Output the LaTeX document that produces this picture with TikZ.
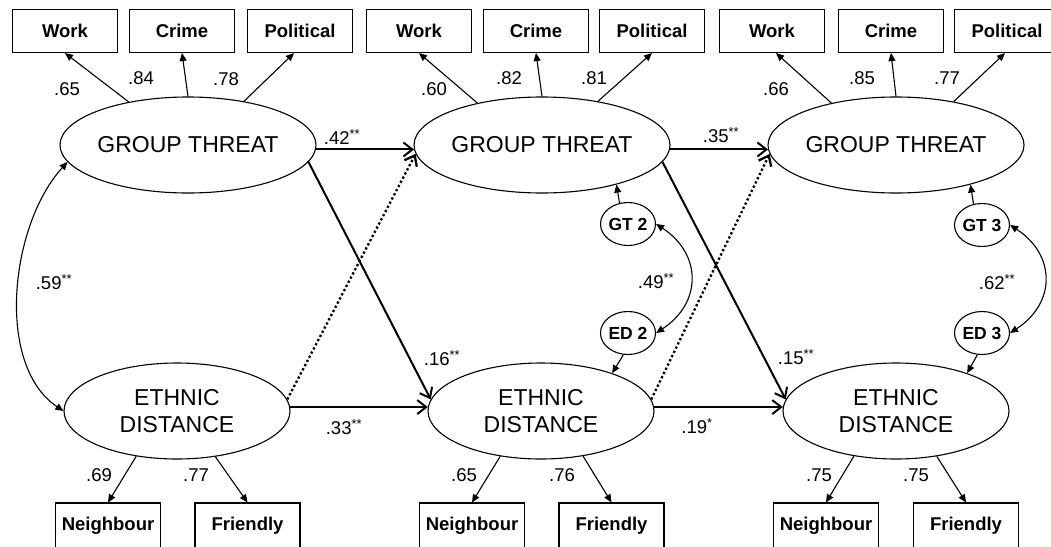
\documentclass[tikz,border=0pt]{standalone}
\usepackage{fontspec}
\setmainfont{Liberation Sans}
\usetikzlibrary{shapes.geometric,arrows.meta,calc}

\begin{document}
\begin{tikzpicture}[x=1pt,y=-1pt,
  latent/.style={ellipse,draw,line width=1.1pt,minimum width=226pt,minimum height=96pt,
    inner sep=0pt,align=center,font=\fontsize{23}{27}\selectfont},
  indicator/.style={rectangle,draw,line width=1.1pt,minimum width=105pt,minimum height=43pt,
    inner sep=0pt,font=\bfseries\fontsize{18.5}{20}\selectfont},
  resid/.style={ellipse,draw,line width=1.1pt,minimum width=54pt,minimum height=43pt,
    inner sep=0pt,font=\bfseries\fontsize{17.5}{19}\selectfont},
  coef/.style={inner sep=0pt,font=\fontsize{18.5}{20}\selectfont},
  meas/.style={line width=1.1pt,-{Triangle[length=8pt,width=7pt]}},
  struct/.style={line width=2pt,-{Straight Barb[length=9pt,width=14pt]}},
  cross/.style={line width=2.3pt,dash pattern=on 2.3pt off 2.4pt,-{Straight Barb[length=9pt,width=14pt]}},
  covar/.style={line width=1.1pt,{Triangle[length=8pt,width=7pt]}-{Triangle[length=8pt,width=7pt]}}
]
\useasboundingbox (0,0) rectangle (1051,546);
\clip (0,0) rectangle (1051,546);
\fill[white] (0,0) rectangle (1051,546);

% latent variables
\node[latent] (gt1) at (188,145) {GROUP THREAT};
\node[latent] (gt2) at (542,145) {GROUP THREAT};
\node[latent] (gt3) at (896,145) {GROUP THREAT};
\node[latent] (ed1) at (177,411) {ETHNIC\\DISTANCE};
\node[latent] (ed2) at (541,411) {ETHNIC\\DISTANCE};
\node[latent] (ed3) at (896,411) {ETHNIC\\DISTANCE};

% threat indicators
\node[indicator] (wk1) at (65,31) {Work};
\node[indicator] (cr1) at (182,31) {Crime};
\node[indicator] (po1) at (300,31) {Political};
\node[indicator] (wk2) at (419,31) {Work};
\node[indicator] (cr2) at (536,31) {Crime};
\node[indicator] (po2) at (652,31) {Political};
\node[indicator] (wk3) at (772,31) {Work};
\node[indicator] (cr3) at (891,31) {Crime};
\node[indicator] (po3) at (1007,31) {Political};

% distance indicators
\node[indicator,minimum height=46pt] (nb1) at (108,526) {Neighbour};
\node[indicator,minimum height=46pt] (fr1) at (247.5,526) {Friendly};
\node[indicator,minimum height=46pt] (nb2) at (472,526) {Neighbour};
\node[indicator,minimum height=46pt] (fr2) at (611.5,526) {Friendly};
\node[indicator,minimum height=46pt] (nb3) at (826,526) {Neighbour};
\node[indicator,minimum height=46pt] (fr3) at (966,526) {Friendly};

% disturbances
\node[resid] (gtr2) at (628,224) {GT 2};
\node[resid] (edr2) at (628,333) {ED 2};
\node[resid] (gtr3) at (982,225) {GT 3};
\node[resid] (edr3) at (982,333) {ED 3};

% loadings
\draw[meas] (gt1.144) -- (wk1.south);
\draw[meas] (gt1.north) -- (cr1.south);
\draw[meas] (gt1.38) -- ($(po1.south)+(-6,0)$);
\draw[meas] (gt2.147) -- (wk2.south);
\draw[meas] (gt2.north) -- (cr2.south);
\draw[meas] (gt2.38) -- (po2.south);
\draw[meas] (gt3.147) -- ($(wk3.south)+(4,0)$);
\draw[meas] (gt3.north) -- (cr3.south);
\draw[meas] (gt3.37) -- ($(po3.south)+(-2,0)$);
\draw[meas] (ed1.-132) -- (nb1.north);
\draw[meas] (ed1.-50) -- (fr1.north);
\draw[meas] (ed2.-132) -- (nb2.north);
\draw[meas] (ed2.-47) -- (fr2.north);
\draw[meas] (ed3.-133) -- (nb3.north);
\draw[meas] (ed3.-48) -- (fr3.north);

% loading values
\node[coef] (l1) at (67,89) {.65};
\node[coef] (l2) at (141,78) {.84};
\node[coef] (l3) at (226,79) {.78};
\node[coef] (l4) at (434,89) {.60};
\node[coef] (l5) at (509,78) {.82};
\node[coef] (l6) at (594,78) {.81};
\node[coef] (l7) at (776,89) {.66};
\node[coef] (l8) at (862,78) {.85};
\node[coef] (l9) at (947,78) {.77};
\node[coef] (l10) at (99,475) {.69};
\node[coef] (l11) at (196,475) {.77};
\node[coef] (l12) at (464,475) {.65};
\node[coef] (l13) at (562,475) {.76};
\node[coef] (l14) at (819,475) {.75};
\node[coef] (l15) at (916,475) {.75};

% structural paths
\draw[struct] (gt1.-2) -- (gt2.182);
\draw[struct] (ed1.2) -- (ed2.178);
\draw[struct] (gt1.-8) -- (ed2.174);
\draw[cross] (ed1.6) -- (gt2.184);
\draw[struct] (gt2.-2) -- (gt3.182);
\draw[struct] (ed2.2) -- (ed3.178);
\draw[struct] (gt2.-8) -- (ed3.174);
\draw[cross] (ed2.6) -- (gt3.184);

\node[coef] (p1) at (342,137) {.42\textsuperscript{**}};
\node[coef] (p2) at (344,427) {.33\textsuperscript{**}};
\node[coef] (p3) at (442,358) {.16\textsuperscript{**}};
\node[coef] (p4) at (721,135) {.35\textsuperscript{**}};
\node[coef] (p5) at (697,426) {.19\textsuperscript{*}};
\node[coef] (p6) at (796,357) {.15\textsuperscript{**}};

% disturbance paths
\draw[meas] (gtr2.112) -- (gt2.-28);
\draw[meas] (edr2.-102) -- (ed2.28);
\draw[meas] (gtr3.112) -- (gt3.-28);
\draw[meas] (edr3.-102) -- (ed3.28);

% correlations
\draw[covar] (gt1.188) .. controls (10,225) and (-5,365) .. (ed1.west);
\draw[covar] (gtr2.east) .. controls +(46,30) and +(46,-30) .. (edr2.east);
\draw[covar] (gtr3.east) .. controls +(46,30) and +(46,-30) .. (edr3.east);

\node[coef] (c1) at (54,282) {.59\textsuperscript{**}};
\node[coef] (c2) at (656,281) {.49\textsuperscript{**}};
\node[coef] (c3) at (997,282) {.62\textsuperscript{**}};
\end{tikzpicture}
\end{document}
